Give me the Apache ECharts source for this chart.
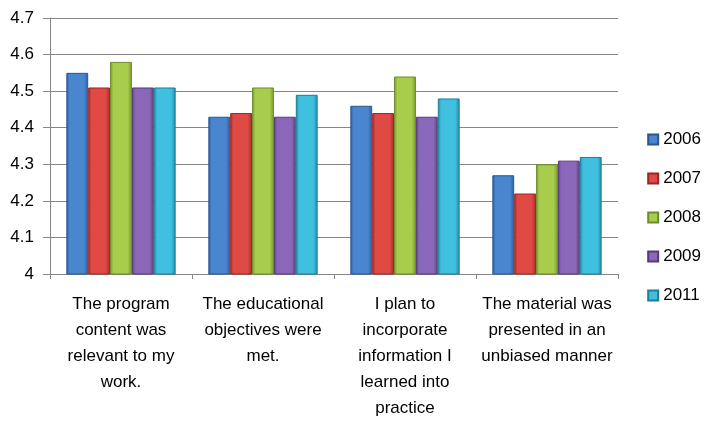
<!DOCTYPE html>
<html>
<head>
<meta charset="utf-8">
<script src="https://cdn.jsdelivr.net/npm/echarts@6/dist/echarts.min.js"></script>
<style>
  html, body { margin: 0; padding: 0; background: #fff; }
  #chart { width: 705px; height: 423px; }
</style>
</head>
<body>
<div id="chart"></div>
<script>
const categories = [
  'The program\ncontent was\nrelevant to my\nwork.',
  'The educational\nobjectives were\nmet.',
  'I plan to\nincorporate\ninformation I\nlearned into\npractice',
  'The material was\npresented in an\nunbiased manner'
]
const years = ['2006', '2007', '2008', '2009', '2011']
const values2006 = [4.55, 4.43, 4.46, 4.27]
const values2007 = [4.51, 4.44, 4.44, 4.22]
const values2008 = [4.58, 4.51, 4.54, 4.30]
const values2009 = [4.51, 4.43, 4.43, 4.31]
const values2011 = [4.51, 4.49, 4.48, 4.32]

const seriesValues = [values2006, values2007, values2008, values2009, values2011]
// [edge, middle, border] per series
const palette = [
  ['#2e5f9e', '#4a86d0', '#2a5590'],
  ['#a82a26', '#e04a45', '#9a2623'],
  ['#779a2e', '#a8cc4c', '#6d8c2a'],
  ['#5d4382', '#8a67b8', '#553c78'],
  ['#2289a6', '#3ec0de', '#1f7d97']
]

const font = '"Liberation Sans", sans-serif'

const chart = echarts.init(document.getElementById('chart'))

chart.setOption({
  animation: false,
  grid: {
    left: 50,
    right: 87,
    top: 18,
    bottom: 149
  },
  legend: {
    orient: 'vertical',
    right: 4,
    top: 131,
    padding: 0,
    itemWidth: 10,
    itemHeight: 10,
    itemGap: 22,
    icon: 'rect',
    textStyle: {
      fontFamily: font,
      fontSize: 17,
      color: '#000'
    },
    data: years
  },
  xAxis: {
    type: 'category',
    data: categories,
    axisLine: { lineStyle: { color: '#868686' } },
    axisTick: { show: true, length: 5, lineStyle: { color: '#868686' } },
    axisLabel: {
      interval: 0,
      margin: 17,
      fontFamily: font,
      fontSize: 17,
      lineHeight: 26,
      color: '#000',
      align: 'center'
    }
  },
  yAxis: {
    type: 'value',
    min: 4,
    max: 4.7,
    interval: 0.1,
    axisLine: { show: true, lineStyle: { color: '#868686' } },
    axisTick: { show: true, length: 7, lineStyle: { color: '#868686' } },
    splitLine: { lineStyle: { color: '#868686' } },
    axisLabel: {
      margin: 16,
      fontFamily: font,
      fontSize: 17,
      color: '#000',
      formatter: v => String(Math.round(v * 10) / 10)
    }
  },
  series: years.map((name, i) => ({
    name,
    type: 'bar',
    data: seriesValues[i],
    barGap: '0%',
    barCategoryGap: '23%',
    itemStyle: {
      color: new echarts.graphic.LinearGradient(0, 0, 1, 0, [
        { offset: 0, color: palette[i][0] },
        { offset: 0.15, color: palette[i][1] },
        { offset: 0.8, color: palette[i][1] },
        { offset: 1, color: palette[i][0] }
      ]),
      borderColor: palette[i][2],
      borderWidth: 1
    }
  }))
})
</script>
</body>
</html>
